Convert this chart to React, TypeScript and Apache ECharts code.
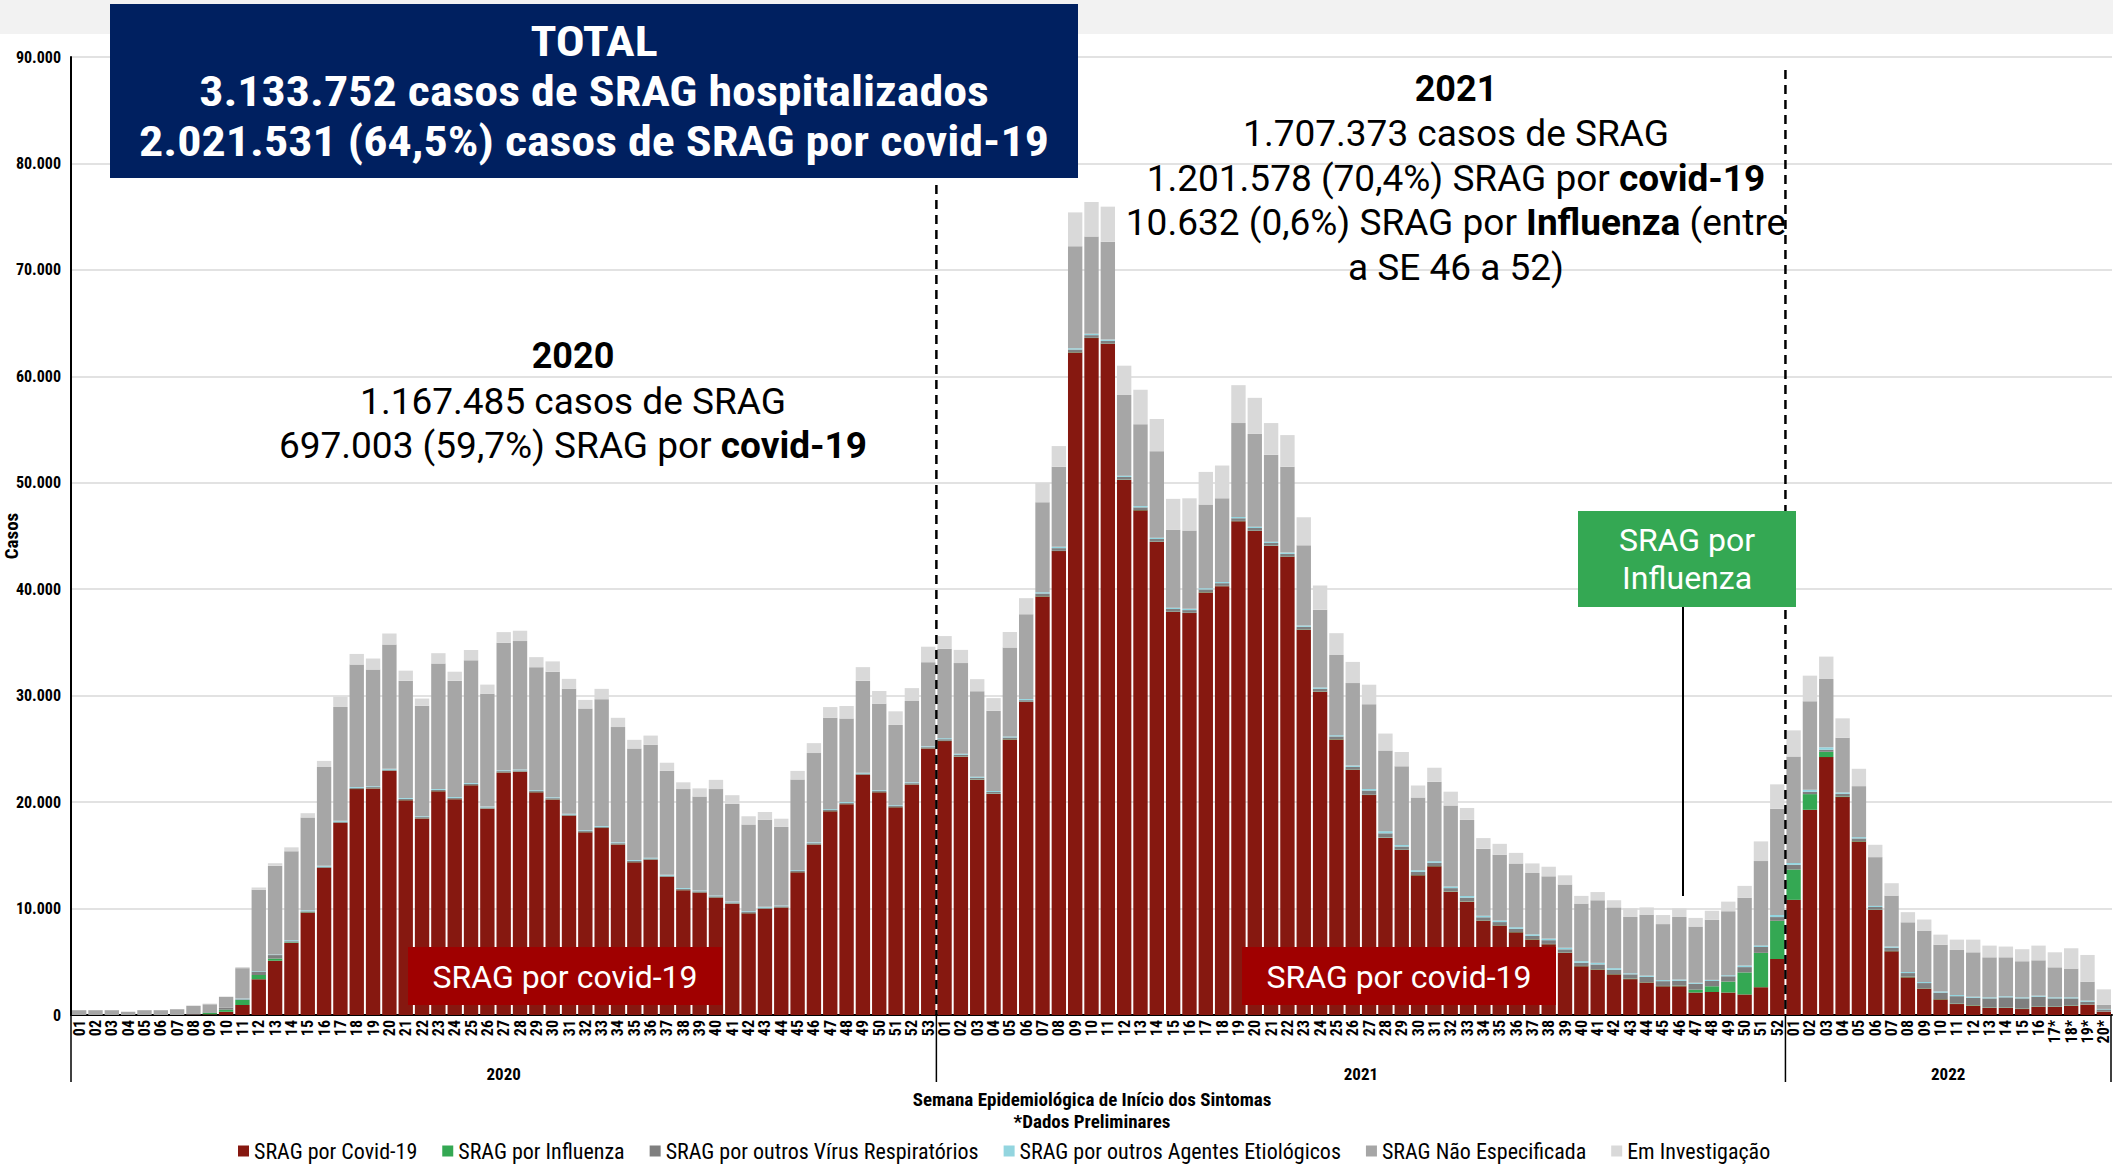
import React, { useEffect, useRef } from "react";
import * as echarts from "echarts";

const weeks2020 = ["01","02","03","04","05","06","07","08","09","10","11","12","13","14","15","16","17","18","19","20","21","22","23","24","25","26","27","28","29","30","31","32","33","34","35","36","37","38","39","40","41","42","43","44","45","46","47","48","49","50","51","52","53"];
const weeks2021 = ["01","02","03","04","05","06","07","08","09","10","11","12","13","14","15","16","17","18","19","20","21","22","23","24","25","26","27","28","29","30","31","32","33","34","35","36","37","38","39","40","41","42","43","44","45","46","47","48","49","50","51","52"];
const weeks2022 = ["01","02","03","04","05","06","07","08","09","10","11","12","13","14","15","16","17*","18*","19*","20*"];

const covid2020 = [0,0,0,0,0,0,0,30,60,300,940,3350,5100,6770,9620,13810,18040,21220,21290,22930,20180,18470,21020,20280,21590,19380,22790,22860,20920,20250,18710,17160,17560,16020,14350,14580,12970,11730,11500,11030,10460,9550,9960,10090,13410,16020,19140,19810,22560,20920,19510,21660,25040];
const flu2020 = [0,0,0,0,0,0,0,0,150,200,470,400,200,60,40,20,20,20,20,20,20,20,20,20,20,20,20,20,20,20,20,20,20,20,20,20,20,20,20,20,20,20,20,20,20,20,20,20,20,20,20,20,20];
const ov2020 = [0,0,0,0,0,0,0,50,50,200,60,330,330,100,80,100,100,100,100,100,100,100,100,100,100,100,100,100,100,100,100,100,100,100,100,100,100,100,100,100,100,100,100,100,100,100,100,100,100,100,100,100,100];
const oa2020 = [0,0,0,0,0,0,0,0,0,0,80,50,50,100,100,80,80,80,80,80,80,80,80,80,80,80,80,80,80,80,80,80,80,80,80,80,80,80,80,80,80,80,80,80,80,80,80,80,80,80,80,80,80];
const nao2020 = [450,450,450,300,450,450,540,790,750,990,2850,7640,8350,8350,8720,9290,10700,11500,10960,11670,11030,10390,11800,10930,11530,10590,11980,12070,11560,11800,11730,11440,11910,10830,10490,10600,9760,9290,8820,9990,9190,8150,8180,7380,8520,8390,8580,7850,8650,8110,7540,7640,7910];
const em2020 = [0,0,0,0,0,0,0,0,60,50,100,200,230,370,400,570,970,1000,1040,1040,940,670,970,840,970,870,1000,970,940,970,940,800,970,870,810,870,770,640,770,870,800,770,730,770,800,930,1010,1170,1270,1210,1280,1210,1450];

const covid2021 = [25730,24270,22110,20770,25890,29400,39320,43580,62240,63590,63050,50270,47410,44440,37860,37760,39700,40290,46390,45470,44070,43040,36190,30370,25890,23030,20660,16640,15500,13120,13970,11590,10650,8850,8400,7770,7100,6650,5840,4580,4270,3820,3370,3050,2700,2700,2110,2160,2110,1930,2610,5260];
const flu2021 = [30,30,30,30,30,30,30,30,30,30,30,30,30,30,30,30,30,30,30,30,30,30,30,30,30,30,30,30,30,30,30,30,30,30,30,30,30,30,30,30,30,30,50,30,30,60,270,540,1030,2070,3230,3590];
const ov2021 = [150,150,150,150,150,150,250,250,250,250,250,250,250,250,250,250,250,250,250,250,250,250,250,250,250,250,400,400,300,300,300,300,350,300,300,300,300,350,300,300,450,400,400,500,450,450,550,500,500,500,550,350];
const oa2021 = [100,100,100,100,100,100,120,120,120,120,120,120,120,120,120,120,120,120,120,120,120,120,120,120,120,120,150,200,150,150,150,150,150,150,150,150,150,150,150,150,150,150,100,120,100,120,100,100,100,150,150,200];
const nao2021 = [8400,8510,8030,7540,8350,7970,8450,7530,9580,9150,9200,7580,7690,8130,7320,7360,7850,7850,8820,8720,8170,8070,7530,7310,7530,7750,7960,7570,7380,6840,7470,7610,7150,6300,6170,5990,5760,5850,5940,5410,5880,5710,5290,5730,5260,5880,5280,5640,6010,6360,7920,9980];
const em2021 = [1190,1240,1130,1180,1460,1510,1830,1940,3180,3240,3290,2750,3240,3020,2910,3020,3070,3080,3560,3390,2970,2970,2640,2270,2050,1990,1830,1600,1350,1120,1310,1300,1120,990,1030,990,900,900,860,720,770,670,810,680,850,810,810,850,900,1120,1850,2290];

const covid2022 = [10820,19280,24230,20470,16300,9870,5990,3540,2480,1470,1030,880,660,660,560,750,750,850,970,310];
const flu2022 = [2850,1470,500,60,40,30,30,60,30,30,40,40,40,40,40,40,40,40,20,10];
const ov2022 = [440,220,190,250,250,250,300,340,490,600,700,700,860,960,960,930,770,670,260,200];
const oa2022 = [180,190,230,130,120,100,110,100,100,120,110,100,100,100,100,100,100,100,100,50];
const nao2022 = [10000,8310,6420,5140,4790,4580,4790,4670,4830,4390,4230,4170,3760,3660,3390,3320,2820,2700,1780,400];
const em2022 = [2450,2410,2100,1820,1630,1160,1160,950,1040,940,970,1190,1100,1010,1130,1380,1410,1910,2510,1440];

const yTicks = [0, 10000, 20000, 30000, 40000, 50000, 60000, 70000, 80000, 90000];
const seriesNames = [
  "SRAG por Covid-19",
  "SRAG por Influenza",
  "SRAG por outros Vírus Respiratórios",
  "SRAG por outros Agentes Etiológicos",
  "SRAG Não Especificada",
  "Em Investigação",
];
const seriesColors = ["#861810", "#34a853", "#7f7f7f", "#93d5df", "#a6a6a6", "#d9d9d9"];

const categories = [
  ...weeks2020.map((w) => "2020-" + w),
  ...weeks2021.map((w) => "2021-" + w),
  ...weeks2022.map((w) => "2022-" + w),
];
const seriesData = [
  [...covid2020, ...covid2021, ...covid2022],
  [...flu2020, ...flu2021, ...flu2022],
  [...ov2020, ...ov2021, ...ov2022],
  [...oa2020, ...oa2021, ...oa2022],
  [...nao2020, ...nao2021, ...nao2022],
  [...em2020, ...em2021, ...em2022],
];

const NARROW = "'Liberation Sans Narrow', 'Arial Narrow', 'Roboto Condensed', 'DejaVu Sans Condensed', 'Liberation Sans', sans-serif";
const ROBOTO = "Roboto, 'Noto Sans', sans-serif";

const fmt = (v: number) => String(v).replace(/\B(?=(\d{3})+(?!\d))/g, ".");

export default function App() {
  const ref = useRef<HTMLDivElement>(null);
  useEffect(() => {
    const chart = echarts.init(ref.current!, null, { renderer: "svg", width: 2113, height: 1168 });
    const option: any = {
      animation: false,
      backgroundColor: "#ffffff",
      grid: { left: 71, right: 1, top: 57, bottom: 153, containLabel: false },
      legend: {
        data: seriesNames,
        left: 233,
        top: 1135,
        icon: "rect",
        itemWidth: 11,
        itemHeight: 11,
        itemGap: 25,
        textStyle: { fontFamily: NARROW, fontSize: 22, color: "#000" },
      },
      xAxis: {
        type: "category",
        data: categories,
        axisLine: { lineStyle: { color: "#000", width: 2 } },
        axisTick: { show: false },
        axisLabel: {
          interval: 0,
          rotate: 90,
          margin: 5,
          fontFamily: NARROW,
          fontWeight: "bold",
          fontSize: 16,
          color: "#000",
          formatter: (v: string) => v.split("-")[1],
        },
      },
      yAxis: {
        type: "value",
        min: yTicks[0],
        max: yTicks[yTicks.length - 1],
        interval: 10000,
        axisLine: { show: true, lineStyle: { color: "#000", width: 2 } },
        axisTick: { show: false },
        splitLine: { lineStyle: { color: "#d9d9d9", width: 1.5 } },
        axisLabel: {
          margin: 10,
          fontFamily: NARROW,
          fontWeight: "bold",
          fontSize: 16,
          color: "#000",
          formatter: (v: number) => fmt(v),
        },
      },
      series: seriesNames.map((name, i) => ({
        name,
        type: "bar",
        stack: "total",
        data: seriesData[i],
        barCategoryGap: "12%",
        itemStyle: { color: seriesColors[i] },
        emphasis: { disabled: true },
      })),
    };
    chart.setOption(option);

    const px = (i: number) => (chart.convertToPixel({ xAxisIndex: 0 }, categories[i]) as number);
    const y0 = chart.convertToPixel({ yAxisIndex: 0 }, 0) as number;
    const pitch = px(1) - px(0);
    const n20 = weeks2020.length;
    const n21 = weeks2021.length;
    const leftX = px(0) - pitch / 2;
    const b1 = (px(n20 - 1) + px(n20)) / 2;
    const b2 = (px(n20 + n21 - 1) + px(n20 + n21)) / 2;
    const rightX = px(categories.length - 1) + pitch / 2 - 1;

    const txt = (x: number, y: number, text: string, font: any, extra: any = {}) => ({
      type: "text",
      x,
      y,
      z: 100,
      style: {
        text,
        fill: font.fill || "#000",
        fontFamily: font.family,
        fontSize: font.size,
        fontWeight: font.weight || "normal",
        align: font.align || "center",
        verticalAlign: "middle",
        textAlign: font.align || "center",
        textVerticalAlign: "middle",
        ...extra,
      },
    });
    const RS = 37;
    const richLine = (x: number, y: number, text: string) => ({
      type: "text",
      x,
      y,
      z: 100,
      style: {
        text,
        align: "center",
        verticalAlign: "middle",
        textAlign: "center",
        textVerticalAlign: "middle",
        fill: "#000",
        fontFamily: ROBOTO,
        fontSize: RS,
        lineHeight: 40,
        rich: {
          n: { fontFamily: ROBOTO, fontSize: RS, lineHeight: 40, fontWeight: "normal", fill: "#000", color: "#000" },
          b: { fontFamily: ROBOTO, fontSize: RS, lineHeight: 40, fontWeight: "bold", fill: "#000", color: "#000" },
        },
      },
    });
    const vline = (x: number, yA: number, yB: number, dashed: boolean, w: number) => ({
      type: "line",
      z: 90,
      shape: { x1: x, y1: yA, x2: x, y2: yB },
      style: { stroke: "#000", lineWidth: w, lineDash: dashed ? [9, 6] : null },
    });
    const boxFont = { family: NARROW, size: 43, weight: "bold", fill: "#fff" };

    const graphic: any[] = [
      { type: "rect", z: 1, shape: { x: 0, y: 0, width: 2113, height: 34 }, style: { fill: "#f2f2f2" } },
      // dashed separators
      vline(b1, 185, y0, true, 2.5),
      vline(b2, 70, y0, true, 2.5),
      // year separators
      vline(leftX, y0, y0 + 67, false, 1.5),
      vline(b1, y0, y0 + 67, false, 1.5),
      vline(b2, y0, y0 + 67, false, 1.5),
      vline(rightX, y0, y0 + 67, false, 1.5),
      txt((leftX + b1) / 2, y0 + 59, "2020", { family: NARROW, size: 17, weight: "bold" }),
      txt((b1 + b2) / 2, y0 + 59, "2021", { family: NARROW, size: 17, weight: "bold" }),
      txt((b2 + rightX) / 2, y0 + 59, "2022", { family: NARROW, size: 17, weight: "bold" }),
      txt(1092, 1110, "Semana Epidemiológica de Início dos Sintomas\n*Dados Preliminares", { family: NARROW, size: 19, weight: "bold" }, { lineHeight: 22 }),
      { ...txt(11, 536, "Casos", { family: NARROW, size: 19, weight: "bold" }), rotation: Math.PI / 2 },
      // total box
      { type: "rect", z: 95, shape: { x: 110, y: 4, width: 968, height: 174 }, style: { fill: "#002060" } },
      {
        ...txt(
          0,
          0,
          "TOTAL\n3.133.752 casos de SRAG hospitalizados\n2.021.531 (64,5%) casos de SRAG por covid-19",
          boxFont,
          { lineHeight: 50 }
        ),
        x: 594,
        y: 91,
        scaleX: 1.116,
      },
      // 2020 annotation
      txt(573, 356, "2020", { family: ROBOTO, size: 36, weight: "bold" }, { lineHeight: 40 }),
      richLine(573, 401, "{n|1.167.485 casos de SRAG}"),
      richLine(573, 445, "{n|697.003 (59,7%) SRAG por }{b|covid-19}"),
      // 2021 annotation
      txt(1456, 89, "2021", { family: ROBOTO, size: 36, weight: "bold" }, { lineHeight: 40 }),
      richLine(1456, 133, "{n|1.707.373 casos de SRAG}"),
      richLine(1456, 178, "{n|1.201.578 (70,4%) SRAG por }{b|covid-19}"),
      richLine(1456, 222, "{n|10.632 (0,6%) SRAG por }{b|Influenza}{n| (entre}"),
      richLine(1456, 267, "{n|a SE 46 a 52)}"),
      // influenza box
      vline(1683, 606, 896, false, 2),
      { type: "rect", z: 95, shape: { x: 1578, y: 511, width: 218, height: 96 }, style: { fill: "#34a853" } },
      txt(1687, 559, "SRAG por\nInfluenza", { family: ROBOTO, size: 32, fill: "#fff" }, { lineHeight: 38 }),
      // covid boxes
      { type: "rect", z: 95, shape: { x: 408, y: 947, width: 314, height: 58 }, style: { fill: "#a00000" } },
      txt(565, 977, "SRAG por covid-19", { family: ROBOTO, size: 32, fill: "#fff" }),
      { type: "rect", z: 95, shape: { x: 1242, y: 947, width: 314, height: 58 }, style: { fill: "#a00000" } },
      txt(1399, 977, "SRAG por covid-19", { family: ROBOTO, size: 32, fill: "#fff" }),
    ];
    chart.setOption({ graphic });
    return () => chart.dispose();
  }, []);
  return (
    <div
      ref={ref}
      style={{ position: "fixed", left: 0, top: 0, width: 2113, height: 1168, background: "#fff" }}
    />
  );
}
